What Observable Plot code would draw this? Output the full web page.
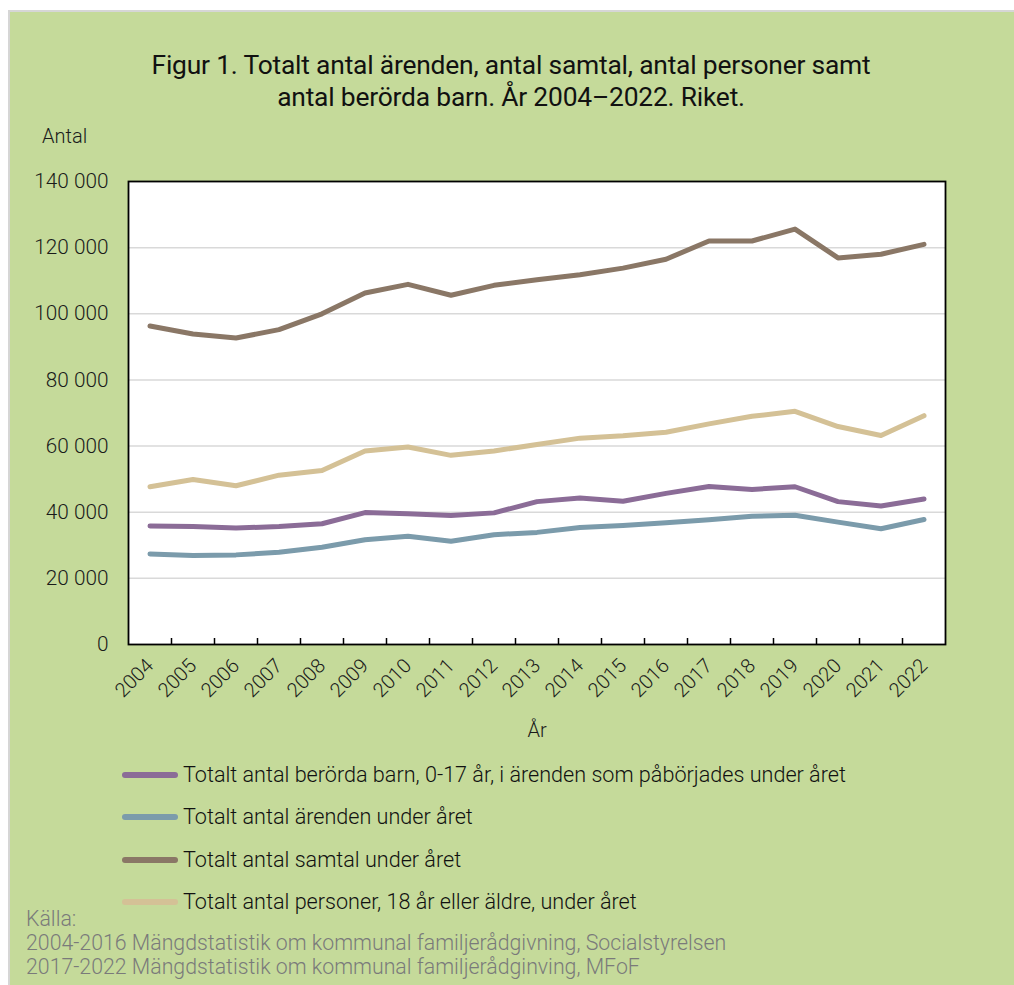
<!DOCTYPE html>
<html>
<head>
<meta charset="utf-8">
<script src="https://cdn.jsdelivr.net/npm/d3@7"></script>
<script src="https://cdn.jsdelivr.net/npm/@observablehq/plot@0.6"></script>
<style>
  html, body { margin: 0; padding: 0; background: #ffffff; }
  body { width: 1014px; height: 985px; position: relative; overflow: hidden; font-family: Roboto, "Noto Sans", sans-serif; }
  #panel { position: absolute; left: 8px; top: 10px; width: 1006px; height: 975px; background: #c5da9a;
           border-top: 2px solid #d6d6d6; border-left: 2px solid #d6d6d6; box-sizing: border-box; }
  #title { position: absolute; left: 8px; top: 49px; width: 1006px; text-align: center; font-size: 26.4px;
           line-height: 32px; color: #111; font-weight: 400; letter-spacing: -0.2px; }
  #ylabel { position: absolute; left: 42px; top: 124px; font-size: 20px; font-weight: 300; color: #1a1a1a; }
  #chart { position: absolute; left: 0; top: 120px; }
  #legend { position: absolute; left: 122px; top: 760px; }
  .item { position: absolute; left: 0; white-space: nowrap; height: 30px; }
  .sw { position: absolute; left: 0; top: 12px; width: 56px; height: 6px; border-radius: 3px; }
  .lt { position: absolute; left: 61px; top: 0; font-size: 21.6px; line-height: 30px; font-weight: 300; color: #111; }
  #source { position: absolute; left: 26px; top: 907px; font-size: 21.3px; line-height: 24px; font-weight: 300; color: #7a7a7a; }
</style>
</head>
<body>
<div id="panel"></div>
<div id="title">Figur 1. Totalt antal ärenden, antal samtal, antal personer samt<br>antal berörda barn. År 2004–2022. Riket.</div>
<div id="ylabel">Antal</div>
<div id="chart"></div>
<div id="legend"></div>
<div id="source">Källa:<br>2004-2016 Mängdstatistik om kommunal familjerådgivning, Socialstyrelsen<br>2017-2022 Mängdstatistik om kommunal familjerådginving, MFoF</div>
<script>
const years = [2004, 2005, 2006, 2007, 2008, 2009, 2010, 2011, 2012, 2013, 2014, 2015, 2016, 2017, 2018, 2019, 2020, 2021, 2022];
const barn     = [35800, 35700, 35200, 35700, 36500, 39900, 39500, 39000, 39800, 43200, 44300, 43300, 45700, 47800, 46900, 47700, 43200, 41900, 44000];
const arenden  = [27400, 26900, 27100, 27900, 29400, 31700, 32700, 31200, 33200, 33900, 35400, 36000, 36800, 37700, 38800, 39100, 37000, 35000, 37800];
const samtal   = [96300, 93900, 92700, 95200, 100000, 106300, 108900, 105600, 108600, 110300, 111800, 113800, 116500, 122000, 122000, 125600, 116900, 118000, 121000];
const personer = [47700, 49900, 48000, 51200, 52600, 58500, 59700, 57200, 58500, 60500, 62400, 63100, 64200, 66700, 69000, 70500, 65900, 63200, 69200];
const seriesNames = [
  "Totalt antal berörda barn, 0-17 år, i ärenden som påbörjades under året",
  "Totalt antal ärenden under året",
  "Totalt antal samtal under året",
  "Totalt antal personer, 18 år eller äldre, under året"
];
const seriesColors = ["#8b6c97", "#7b9bab", "#8a7766", "#d4c196"];
const yTicks = [0, 20000, 40000, 60000, 80000, 100000, 120000, 140000];

const seriesValues = [barn, arenden, samtal, personer];
const data = [];
seriesNames.forEach((name, i) => {
  years.forEach((yr, j) => data.push({series: name, year: yr, value: seriesValues[i][j]}));
});
const boundaries = years.slice(1).map(y => y - 0.5);
const fmt = d => d3.format(",")(d).replace(/,/g, " ");

const chart = Plot.plot({
  width: 1000,
  height: 630,
  marginTop: 61,
  marginLeft: 128,
  marginRight: 55,
  marginBottom: 106,
  style: {fontFamily: "Roboto, sans-serif", color: "#1a1a1a", background: "transparent", overflow: "visible"},
  x: {domain: [years[0] - 0.5, years[years.length - 1] + 0.5]},
  y: {domain: [yTicks[0], yTicks[yTicks.length - 1]]},
  color: {domain: seriesNames, range: seriesColors},
  marks: [
    Plot.frame({fill: "white", stroke: null}),
    Plot.gridY({ticks: yTicks.slice(1, -1), stroke: "#d9d9d9", strokeOpacity: 1, strokeWidth: 1.5}),
    Plot.axisY({ticks: yTicks, tickFormat: fmt, tickSize: 0, tickPadding: 20, fontSize: 20.8, fontWeight: 300, label: null}),
    Plot.axisX({ticks: years, tickFormat: d => String(d), tickSize: 0, tickPadding: 18, tickRotate: -45, fontSize: 20, fontWeight: 300,
                label: "År", labelAnchor: "center", labelArrow: "none", labelOffset: 92}),
    Plot.axisX({ticks: boundaries, tickFormat: () => "", tickSize: 6, dy: -6, stroke: "black", strokeWidth: 1.5, label: null}),
    Plot.line(data, {x: "year", y: "value", stroke: "series", z: "series", strokeWidth: 5, strokeLinecap: "round", strokeLinejoin: "round"}),
    Plot.frame({stroke: "black", strokeWidth: 1.8})
  ]
});
d3.select(chart).selectAll("[aria-label='x-axis label'] text, [aria-label='x-axis label']").attr("font-size", 20).attr("font-weight", 300);
document.getElementById("chart").appendChild(chart);

const legend = document.getElementById("legend");
seriesNames.forEach((name, i) => {
  const item = document.createElement("div");
  item.className = "item";
  item.style.top = (i * 42.3) + "px";
  const sw = document.createElement("div");
  sw.className = "sw";
  sw.style.background = seriesColors[i];
  const t = document.createElement("div");
  t.className = "lt";
  t.textContent = name;
  item.appendChild(sw);
  item.appendChild(t);
  legend.appendChild(item);
});
</script>
</body>
</html>
